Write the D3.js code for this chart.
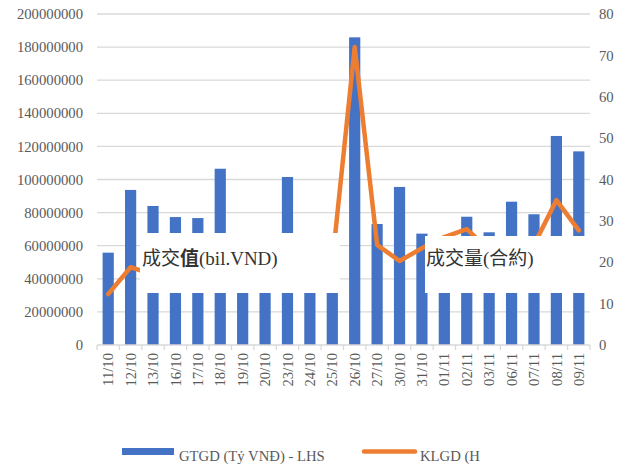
<!DOCTYPE html>
<html>
<head>
<meta charset="utf-8">
<script src="https://cdn.jsdelivr.net/npm/d3@7"></script>
<style>
  html, body { margin: 0; padding: 0; background: #fff; }
  svg { display: block; }
  .serif { font-family: "Liberation Serif", "Times New Roman", serif; }
  .cjk { font-family: "Liberation Serif", "Noto Sans CJK TC", serif; }
</style>
</head>
<body>
<div id="chart"></div>
<script>
// ---- Data ----
const categories = ["11/10","12/10","13/10","16/10","17/10","18/10","19/10","20/10","23/10","24/10","25/10",
  "26/10","27/10","30/10","31/10","01/11","02/11","03/11","06/11","07/11","08/11","09/11"];
// GTGD (bars, left axis)
const barValues = [55800000, 93700000, 84000000, 77300000, 76700000, 106500000, 45000000, 50000000, 101500000, 40000000, 45000000,
  185900000, 73100000, 95500000, 67300000, 50000000, 77500000, 68100000, 86600000, 79000000, 126300000, 117000000];
// KLGD (line, right axis)
const lineValues = [12.3, 18.8, 17.0, 17.0, 16.0, 19.0, 17.0, 18.0, 21.0, 19.0, 20.0,
  72.0, 24.2, 20.3, 23.4, 26.1, 28.0, 23.0, 22.0, 24.2, 35.0, 27.7];
const leftTicks = [0, 20000000, 40000000, 60000000, 80000000, 100000000, 120000000, 140000000, 160000000, 180000000, 200000000];
const rightTicks = [0, 10, 20, 30, 40, 50, 60, 70, 80];
const legendLabels = ["GTGD (Tỷ VNĐ) - LHS", "KLGD (H"];
const boxLabels = [["成交", "值", "(bil.VND)"], ["成交量(合約)", "", ""]];

// ---- Layout ----
const W = 632, H = 465;
const plot = { left: 97, right: 590, top: 14, bottom: 345 };
const barColor = "#4472C4", lineColor = "#ED7D31", gridColor = "#d9d9d9", textColor = "#595959";

const svg = d3.select("#chart").append("svg").attr("width", W).attr("height", H);

const x = d3.scaleBand().domain(categories).range([plot.left, plot.right]).paddingInner(0.5).paddingOuter(0.25);
const yL = d3.scaleLinear().domain([0, 200000000]).range([plot.bottom, plot.top]);
const yR = d3.scaleLinear().domain([0, 80]).range([plot.bottom, plot.top]);

// Gridlines
svg.append("g").selectAll("line").data(leftTicks.filter(d => d > 0)).join("line")
  .attr("x1", plot.left).attr("x2", plot.right)
  .attr("y1", d => yL(d)).attr("y2", d => yL(d))
  .attr("stroke", gridColor).attr("stroke-width", 1.3);

// Bars
svg.append("g").selectAll("rect").data(categories).join("rect")
  .attr("x", d => x(d)).attr("width", x.bandwidth())
  .attr("y", (d, i) => yL(barValues[i]))
  .attr("height", (d, i) => yL(0) - yL(barValues[i]))
  .attr("fill", barColor);

// Line
const line = d3.line().x((d, i) => x(categories[i]) + x.bandwidth() / 2).y(d => yR(d));
svg.append("path").datum(lineValues).attr("d", line)
  .attr("fill", "none").attr("stroke", lineColor).attr("stroke-width", 4.5)
  .attr("stroke-linejoin", "round").attr("stroke-linecap", "round");

// X axis
const xAxis = svg.append("g").attr("transform", `translate(0,${plot.bottom})`);
xAxis.append("line").attr("x1", plot.left).attr("x2", plot.right).attr("y1", 0).attr("y2", 0)
  .attr("stroke", gridColor).attr("stroke-width", 1.3);
const step = x.step();
xAxis.selectAll("line.tick").data(d3.range(categories.length + 1)).join("line").attr("class", "tick")
  .attr("x1", i => plot.left + i * step).attr("x2", i => plot.left + i * step)
  .attr("y1", 0).attr("y2", 5).attr("stroke", gridColor).attr("stroke-width", 1.3);
xAxis.selectAll("text").data(categories).join("text").attr("class", "serif")
  .attr("transform", d => `translate(${x(d) + x.bandwidth() / 2},8) rotate(-90)`)
  .attr("text-anchor", "end").attr("dy", "0.35em")
  .style("font-size", "14.7px").attr("fill", textColor)
  .text(d => d);

// Left axis labels
svg.append("g").selectAll("text").data(leftTicks).join("text").attr("class", "serif")
  .attr("x", 83).attr("y", d => yL(d)).attr("dy", "0.35em").attr("text-anchor", "end")
  .style("font-size", "14.7px").attr("fill", textColor)
  .text(d => d3.format("d")(d));

// Right axis labels
svg.append("g").selectAll("text").data(rightTicks).join("text").attr("class", "serif")
  .attr("x", 599).attr("y", d => yR(d)).attr("dy", "0.35em").attr("text-anchor", "start")
  .style("font-size", "14.7px").attr("fill", textColor)
  .text(d => d);

// Annotation boxes (white) with labels
const boxes = [
  { x0: 140, x1: 340, y0: 233, y1: 293, tx: 142, ty: 265 },
  { x0: 425, x1: 592, y0: 236, y1: 293, tx: 426, ty: 265 }
];
boxes.forEach((b, i) => {
  svg.append("rect").attr("x", b.x0).attr("y", b.y0).attr("width", b.x1 - b.x0).attr("height", b.y1 - b.y0)
    .attr("fill", "#fff");
  const t = svg.append("text").attr("class", "cjk").attr("x", b.tx).attr("y", b.ty)
    .style("font-size", "19px").attr("fill", "#333");
  t.append("tspan").text(boxLabels[i][0]);
  if (boxLabels[i][1]) t.append("tspan").attr("font-weight", "bold").text(boxLabels[i][1]);
  if (boxLabels[i][2]) t.append("tspan").text(boxLabels[i][2]);
});

// Legend
const lg = svg.append("g");
lg.append("rect").attr("x", 122).attr("y", 448).attr("width", 52).attr("height", 7).attr("fill", barColor);
lg.append("text").attr("class", "serif").attr("x", 179).attr("y", 461).style("font-size", "14.7px")
  .attr("fill", textColor).text(legendLabels[0]);
lg.append("line").attr("x1", 364).attr("x2", 415).attr("y1", 451.5).attr("y2", 451.5)
  .attr("stroke", lineColor).attr("stroke-width", 4.5).attr("stroke-linecap", "round");
lg.append("text").attr("class", "serif").attr("x", 420).attr("y", 461).style("font-size", "14.7px")
  .attr("fill", textColor).text(legendLabels[1]);
</script>
</body>
</html>
